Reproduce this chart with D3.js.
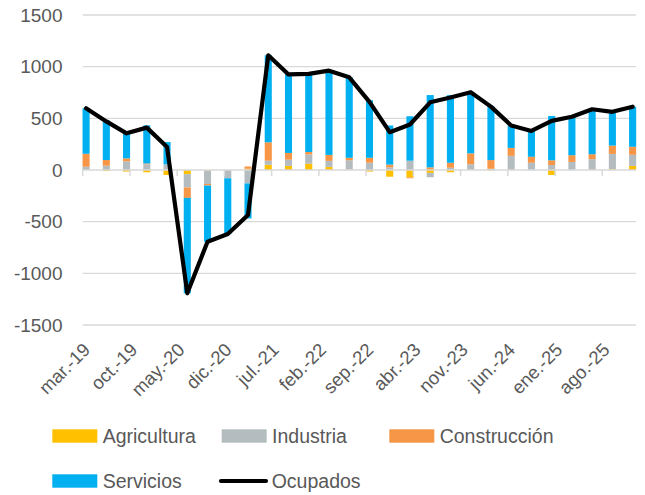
<!DOCTYPE html>
<html><head><meta charset="utf-8">
<script src="https://cdn.jsdelivr.net/npm/d3@7"></script>
<style>
body{margin:0;background:#fff}
svg{display:block}
text{font-family:"Liberation Sans",Arial,sans-serif;fill:#595959}
</style>
</head><body>
<svg id="chart" width="645" height="495"></svg>
<script>
// ---- DATA ----
const periods = ["2019-03","2019-06","2019-09","2019-12","2020-03","2020-06","2020-09","2020-12",
  "2021-03","2021-06","2021-09","2021-12","2022-03","2022-06","2022-09","2022-12",
  "2023-03","2023-06","2023-09","2023-12","2024-03","2024-06","2024-09","2024-12",
  "2025-03","2025-06","2025-09","2025-12"];
const agricultura  = [0,-10,-15,-22,-48,-40,-5,0,12,50,40,61,30,5,-15,-65,-72,-28,-22,0,-3,0,0,-48,0,0,8,40];
const industria    = [32,42,84,55,55,-130,-130,-80,-130,40,60,90,58,90,70,26,90,-42,22,56,12,137,70,48,78,105,148,107];
const construccion = [125,55,29,8,0,-100,-16,0,22,178,65,23,58,23,48,26,-8,26,48,105,84,77,58,46,65,48,80,78];
const servicios    = [440,383,257,369,215,-923,-543,-540,-339,842,760,756,815,779,557,379,430,699,654,592,520,216,250,429,372,435,327,387];
const ocupados     = [597,470,355,410,222,-1193,-694,-620,-435,1110,925,930,961,897,660,366,440,655,702,753,613,430,378,475,515,588,563,612];
const tickDates  = ["2019-03","2019-10","2020-05","2020-12","2021-07","2022-02","2022-09","2023-04","2023-11","2024-06","2025-01","2025-08"];
const tickLabels = ["mar.-19","oct.-19","may.-20","dic.-20","jul.-21","feb.-22","sep.-22","abr.-23","nov.-23","jun.-24","ene.-25","ago.-25"];
const yTicks = [1500,1000,500,0,-500,-1000,-1500];
const seriesNames = ["Agricultura","Industria","Construcción","Servicios"];
const lineName = "Ocupados";
const colors = ["#FFC000","#B4BCC0","#F79646","#00B0F0"];

// ---- LAYOUT ----
const svg = d3.select("#chart");
const plotLeft = 82.7, plotRight = 636, plotTop = 15, plotBottom = 325;
const monthIdx = s => (+s.slice(0,4) - 2019) * 12 + (+s.slice(5,7) - 3);
const totalMonths = monthIdx("2025-12") + 1;

const x = d3.scaleLinear().domain([0, totalMonths]).range([plotLeft, plotRight]);
const y = d3.scaleLinear().domain([-1500, 1500]).range([plotBottom, plotTop]);

// gridlines
svg.append("g").selectAll("line").data(yTicks.filter(v => v !== 0)).join("line")
  .attr("x1", plotLeft).attr("x2", plotRight)
  .attr("y1", d => y(d)).attr("y2", d => y(d))
  .attr("stroke", "#D9D9D9").attr("stroke-width", 1.3);

// y labels
svg.append("g").selectAll("text").data(yTicks).join("text")
  .attr("x", 62.5).attr("y", d => y(d)).attr("dy", "0.35em")
  .attr("text-anchor", "end").attr("font-size", 19)
  .text(d => d);

// stacked bars
const table = periods.map((p, i) => ({
  period: p,
  Agricultura: agricultura[i], Industria: industria[i],
  "Construcción": construccion[i], Servicios: servicios[i]
}));
const stack = d3.stack().keys(seriesNames).offset(d3.stackOffsetDiverging).order(d3.stackOrderNone);
const layers = stack(table);
const mw = x(1) - x(0);
const barW = mw * 1.05;
svg.append("g").selectAll("g").data(layers).join("g")
  .attr("fill", (d, i) => colors[i])
  .selectAll("rect").data(d => d).join("rect")
  .attr("x", d => x(monthIdx(d.data.period) + 0.5) - barW / 2)
  .attr("width", barW)
  .attr("y", d => y(Math.max(d[0], d[1])))
  .attr("height", d => Math.abs(y(d[0]) - y(d[1])));

// zero axis
const axisG = svg.append("g");
axisG.append("line").attr("x1", plotLeft).attr("x2", plotRight)
  .attr("y1", y(0)).attr("y2", y(0))
  .attr("stroke", "#D9D9D9").attr("stroke-width", 1.5);
axisG.selectAll("line.tick").data(tickDates).join("line").attr("class", "tick")
  .attr("x1", d => x(monthIdx(d))).attr("x2", d => x(monthIdx(d)))
  .attr("y1", y(0)).attr("y2", y(0) + 6)
  .attr("stroke", "#D9D9D9").attr("stroke-width", 1.5);

// x labels (low position, rotated)
svg.append("g").selectAll("text").data(tickDates).join("text")
  .attr("transform", (d) => `translate(${x(monthIdx(d)) + 8.5},351) rotate(-45)`)
  .attr("text-anchor", "end").attr("font-size", 18.5)
  .text((d, i) => tickLabels[i]);

// line
const line = d3.line()
  .x((d, i) => x(monthIdx(periods[i]) + 0.5))
  .y(d => y(d));
svg.append("path").datum(ocupados)
  .attr("d", line).attr("fill", "none")
  .attr("stroke", "#000").attr("stroke-width", 4.2)
  .attr("stroke-linejoin", "round").attr("stroke-linecap", "round");

// legend
const legendItems = [
  {name: seriesNames[0], color: colors[0], x: 52.3, y: 429.3, type: "rect"},
  {name: seriesNames[1], color: colors[1], x: 221.7, y: 429.3, type: "rect"},
  {name: seriesNames[2], color: colors[2], x: 389.3, y: 429.3, type: "rect"},
  {name: seriesNames[3], color: colors[3], x: 52.3, y: 474.3, type: "rect"},
  {name: lineName, color: "#000", x: 220, y: 474.3, type: "line"}
];
const lg = svg.append("g").selectAll("g").data(legendItems).join("g")
  .attr("transform", d => `translate(${d.x},${d.y})`);
lg.filter(d => d.type === "rect").append("rect")
  .attr("width", 45).attr("height", 13.4).attr("fill", d => d.color);
lg.filter(d => d.type === "line").append("line")
  .attr("x1", 1).attr("x2", 46).attr("y1", 6.7).attr("y2", 6.7)
  .attr("stroke", "#000").attr("stroke-width", 4.2).attr("stroke-linecap", "round");
lg.append("text").attr("x", d => d.type === "rect" ? 50.4 : 51.7).attr("y", 13.6)
  .attr("font-size", 19.5).text(d => d.name);
</script>
</body></html>
